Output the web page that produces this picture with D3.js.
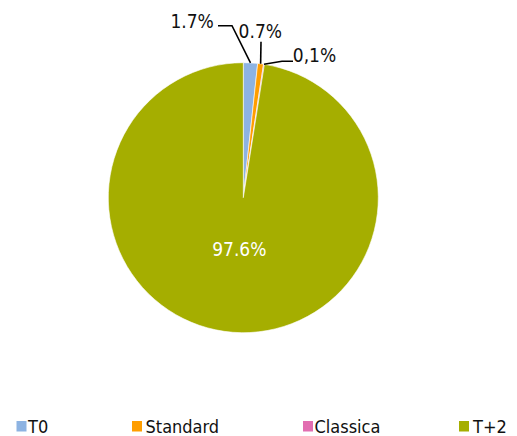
<!DOCTYPE html>
<html>
<head>
<meta charset="utf-8">
<script src="https://cdn.jsdelivr.net/npm/d3@7/dist/d3.min.js"></script>
<style>
  html, body { margin: 0; padding: 0; background: #fff; }
  svg { display: block; font-family: "DejaVu Sans Condensed", "DejaVu Sans", Verdana, sans-serif; font-stretch: condensed; }
</style>
</head>
<body>
<svg id="chart" width="517" height="436"></svg>
<script>
// Share of volume by segment
const categories = ["T0", "Standard", "Classica", "T+2"];
const values = [1.7, 0.7, 0.1, 97.6];
const labels = ["1.7%", "0.7%", "0,1%", "97.6%"];
const colors = ["#8DB3E2", "#FF9E00", "#E26EB1", "#A5AE00"];

const svg = d3.select("#chart");
const cx = 243.3, cy = 197.7, r = 135;

const pie = d3.pie().sort(null).value(d => d)
  .startAngle(0).endAngle(2 * Math.PI);
const arcs = pie(values);
const arc = d3.arc().innerRadius(0).outerRadius(r);

const g = svg.append("g").attr("transform", `translate(${cx},${cy})`);

g.selectAll("path.slice")
  .data(arcs)
  .enter().append("path")
  .attr("class", "slice")
  .attr("d", arc)
  .attr("fill", (d, i) => colors[i])
  .attr("stroke", "#fff")
  .attr("stroke-width", 0.6);

// Point on the rim at a slice's mid angle
function rimPoint(d) {
  const a = (d.startAngle + d.endAngle) / 2;
  return [r * Math.sin(a), -r * Math.cos(a)];
}

// Leader lines and outside labels for the thin slices
const callouts = [
  { i: 0, path: [[-11.3, -172], [-25.3, -172]], tx: -29.5, ty: -169.5, anchor: "end" },
  { i: 1, path: [[17.7, -156]], tx: 17, ty: -159.5, anchor: "middle" },
  { i: 2, path: [[38.7, -136.5], [49.7, -136.5]], tx: 49.5, ty: -135.5, anchor: "start" }
];

callouts.forEach(c => {
  const p0 = rimPoint(arcs[c.i]);
  const pts = [p0].concat(c.path);
  g.append("path")
    .attr("d", d3.line()(pts))
    .attr("fill", "none")
    .attr("stroke", "#000")
    .attr("stroke-width", 1.6);
  g.append("text")
    .attr("x", c.tx)
    .attr("y", c.ty)
    .attr("text-anchor", c.anchor)
    .attr("font-size", 19)
    .attr("fill", "#111")
    .text(labels[c.i]);
});

// Inside label for the large slice
g.append("text")
  .attr("x", -4)
  .attr("y", 58.3)
  .attr("text-anchor", "middle")
  .attr("font-size", 19)
  .attr("fill", "#fff")
  .text(labels[3]);

// Legend
const swatchX = [16.5, 132, 303, 459];
const textX = [28, 145.5, 314.5, 473];
categories.forEach((name, i) => {
  svg.append("rect")
    .attr("x", swatchX[i]).attr("y", 421)
    .attr("width", 10).attr("height", 10.5)
    .attr("fill", colors[i]);
  svg.append("text")
    .attr("x", textX[i])
    .attr("y", 433)
    .attr("font-size", 18)
    .attr("fill", "#111")
    .text(name);
});
</script>
</body>
</html>
